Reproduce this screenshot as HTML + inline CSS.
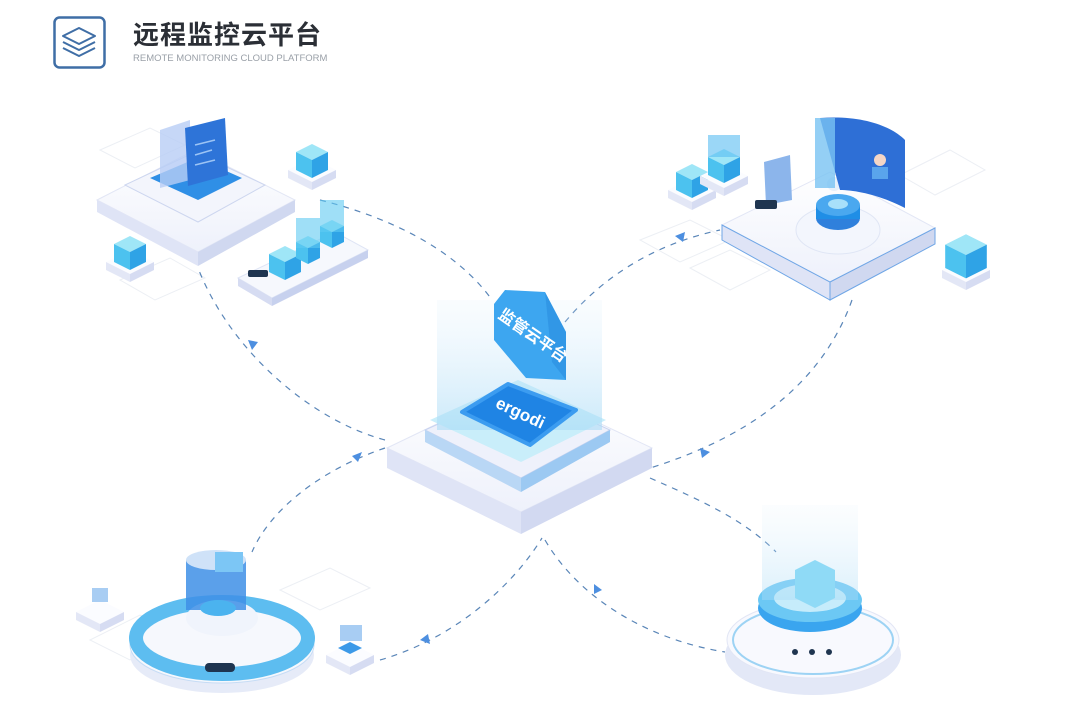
<!DOCTYPE html>
<html><head><meta charset="utf-8"><style>
html,body{margin:0;padding:0;background:#fff;}
body{width:1080px;height:716px;overflow:hidden;position:relative;font-family:"Liberation Sans","Noto Sans CJK SC",sans-serif;}
.title{position:absolute;left:133px;top:20px;font-size:26px;line-height:30px;font-weight:bold;color:#2b2f36;letter-spacing:1px;font-family:"Liberation Sans","Noto Sans CJK SC",sans-serif;}
.sub{position:absolute;left:133px;top:53px;font-size:9.5px;line-height:11px;color:#9aa0a8;letter-spacing:0;}
</style></head><body>
<svg width="1080" height="716" style="position:absolute;left:0;top:0">
<defs>
<linearGradient id="lt" x1="0" y1="0" x2="0" y2="1"><stop offset="0" stop-color="#ffffff"/><stop offset="1" stop-color="#eef1fb"/></linearGradient>
<linearGradient id="glow" x1="0" y1="0" x2="0" y2="1"><stop offset="0" stop-color="#dbeefc" stop-opacity="0.15"/><stop offset="1" stop-color="#a9dbf6" stop-opacity="0.6"/></linearGradient>
<g id="cube">
<polygon points="0,-16 16,-8 0,0 -16,-8" fill="#9fe6f7"/>
<polygon points="-16,-8 0,0 0,18 -16,10" fill="#4cc2ef"/>
<polygon points="0,0 16,-8 16,10 0,18" fill="#2fa3e6"/>
</g>
<g id="pad">
<polygon points="0,-12 24,0 0,12 -24,0" fill="#fbfcff"/>
<polygon points="-24,0 0,12 0,20 -24,8" fill="#e3e7f6"/>
<polygon points="0,12 24,0 24,8 0,20" fill="#d6dcf2"/>
</g>
</defs>
<!-- logo -->
<rect x="54.5" y="17.5" width="50" height="50" rx="5" fill="none" stroke="#3f6ea6" stroke-width="2.5"/>
<g fill="none" stroke="#3f6ea6" stroke-width="2" stroke-linejoin="round">
<polygon points="79,28 95,36 79,44 63,36"/><path d="M63,42 L79,50 L95,42"/><path d="M63,48 L79,56 L95,48"/>
</g>
<!-- faint grid tiles -->
<g fill="none" stroke="#eceff4" stroke-width="1">
<polygon points="640,240 690,220 730,240 680,262"/><polygon points="690,268 730,250 770,270 730,290"/>
<polygon points="900,175 950,150 985,170 935,195"/><polygon points="100,150 150,128 185,145 135,168"/>
<polygon points="120,280 170,258 205,278 155,300"/><polygon points="90,640 140,615 180,635 130,660"/>
<polygon points="280,590 330,568 370,588 320,610"/>
</g>
<!-- dashed connectors -->
<g fill="none" stroke="#5a86b8" stroke-width="1.2" stroke-dasharray="6,6">
<path d="M385,440 C310,420 230,350 198,268"/>
<path d="M320,200 C400,220 460,255 492,300"/>
<path d="M565,322 C600,280 650,245 720,230"/>
<path d="M852,300 C820,390 740,440 650,468"/>
<path d="M385,448 C320,470 270,510 252,552"/>
<path d="M380,660 C450,640 510,590 542,538"/>
<path d="M545,540 C580,600 650,640 725,652"/>
<path d="M650,478 C700,500 745,520 776,552"/>
</g>
<g fill="#4d8fe0">
<polygon points="248,340 258,342 252,350"/>
<polygon points="675,236 685,232 683,242"/>
<polygon points="700,448 710,452 702,458"/>
<polygon points="352,456 362,452 358,462"/>
<polygon points="420,640 428,634 430,644"/>
<polygon points="594,584 602,590 594,594"/>
</g>
<!-- center platform -->
<polygon points="387,448 518,385 652,448 521,512" fill="url(#lt)" stroke="#e2e6f5"/>
<polygon points="387,448 521,512 521,534 387,468" fill="#dfe4f6"/>
<polygon points="521,512 652,448 652,468 521,534" fill="#d2d9f1"/>
<polygon points="425,430 518,388 610,430 521,478" fill="#eef1fb" stroke="#c8d3f0"/>
<polygon points="425,430 521,478 521,492 425,442" fill="#b9d7f5"/>
<polygon points="521,478 610,430 610,442 521,492" fill="#9cc9f2"/>
<polygon points="430,420 518,380 606,420 521,462" fill="#c9eefa"/>
<rect x="437" y="300" width="165" height="130" fill="url(#glow)"/>
<polygon points="462,412 508,384 576,410 530,445" fill="#1f84e4" stroke="#3c9cf0" stroke-linejoin="round" stroke-width="4"/>
<text x="518" y="418" font-size="17" font-weight="bold" fill="#fff" text-anchor="middle" transform="rotate(25 518 418)" font-family="Liberation Sans,sans-serif">ergodi</text>
<polygon points="505,290 545,292 566,332 566,380 526,378 494,340 494,304" fill="#3da6f0"/>
<polygon points="545,292 566,332 566,380 552,362" fill="#2a8ee0" opacity="0.6"/>
<text x="530" y="340" font-size="16" font-weight="bold" fill="#fff" text-anchor="middle" transform="rotate(35 530 340)" font-family="Liberation Sans,Noto Sans CJK SC,sans-serif">监管云平台</text>
<!-- top-left node -->
<polygon points="97,200 195,150 295,200 198,252" fill="url(#lt)" stroke="#e2e6f5"/>
<polygon points="97,200 198,252 198,266 97,212" fill="#dfe4f6"/>
<polygon points="198,252 295,200 295,212 198,266" fill="#d0d8f0"/>
<polygon points="125,185 195,152 265,185 198,222" fill="#f3f5fc" stroke="#cdd6ef"/>
<polygon points="150,178 197,158 242,178 198,200" fill="#2f8fe6"/>
<polygon points="160,130 190,120 190,180 160,188" fill="#b8cdf5" opacity="0.8"/>
<polygon points="185,128 225,118 228,175 188,186" fill="#2e74d8"/>
<g stroke="#9cc4f5" stroke-width="1.5"><line x1="195" y1="145" x2="215" y2="140"/><line x1="195" y1="155" x2="212" y2="150"/><line x1="195" y1="165" x2="215" y2="160"/></g>
<use href="#pad" x="312" y="170"/><use href="#cube" x="312" y="160"/>
<use href="#pad" x="130" y="262"/><use href="#cube" x="130" y="252"/>
<polygon points="238,278 335,232 368,250 272,298" fill="#f6f8fd" stroke="#dfe5f5"/>
<polygon points="238,278 272,298 272,306 238,286" fill="#d6dcf2"/><polygon points="272,298 368,250 368,258 272,306" fill="#c7d1ee"/>
<rect x="248" y="270" width="20" height="7" rx="2" fill="#1f3550"/>
<use href="#cube" x="285" y="262"/>
<g transform="translate(308,248)"><polygon points="0,-12 12,-6 0,0 -12,-6" fill="#9fe6f7"/><polygon points="-12,-6 0,0 0,16 -12,10" fill="#4cc2ef"/><polygon points="0,0 12,-6 12,10 0,16" fill="#2fa3e6"/><rect x="-12" y="-30" width="24" height="30" fill="#5fc9f2" opacity="0.6"/></g>
<g transform="translate(332,232)"><polygon points="0,-12 12,-6 0,0 -12,-6" fill="#9fe6f7"/><polygon points="-12,-6 0,0 0,16 -12,10" fill="#4cc2ef"/><polygon points="0,0 12,-6 12,10 0,16" fill="#2fa3e6"/><rect x="-12" y="-32" width="24" height="32" fill="#5fc9f2" opacity="0.6"/></g>
<!-- top-right node -->
<polygon points="722,225 830,172 935,228 830,282" fill="url(#lt)" stroke="#e2e6f5"/>
<polygon points="722,225 830,282 830,300 722,240" fill="#dfe4f6" stroke="#6fa6e6" stroke-width="1"/>
<polygon points="830,282 935,228 935,244 830,300" fill="#d0d8f0" stroke="#6fa6e6" stroke-width="1"/>
<ellipse cx="838" cy="230" rx="42" ry="24" fill="#f3f6fd" stroke="#e0e6f5"/>
<ellipse cx="838" cy="218" rx="22" ry="12" fill="#2f80dc"/>
<rect x="816" y="205" width="44" height="14" fill="#1f8ee6"/>
<ellipse cx="838" cy="205" rx="22" ry="11" fill="#4aa8ef"/>
<ellipse cx="838" cy="204" rx="10" ry="5" fill="#a8e0fa"/>
<circle cx="834" cy="184" r="7" fill="#e6f0fb"/>
<path d="M820,118 C860,115 890,125 905,140 L905,208 C880,195 855,190 840,190 Z" fill="#2e6fd6"/>
<rect x="815" y="118" width="20" height="70" fill="#79c3f3" opacity="0.8"/>
<circle cx="880" cy="160" r="6" fill="#f4d6c6"/><rect x="872" y="167" width="16" height="12" fill="#5aa4ec"/>
<polygon points="764,162 790,155 792,200 766,205" fill="#8cb5eb"/>
<rect x="755" y="200" width="22" height="9" rx="2" fill="#1f3550"/>
<use href="#pad" x="692" y="190"/><use href="#cube" x="692" y="180"/>
<use href="#pad" x="724" y="176"/><use href="#cube" x="724" y="165"/><rect x="708" y="135" width="32" height="22" fill="#59bdf1" opacity="0.6"/>
<use href="#pad" x="966" y="270"/><g transform="translate(966,255) scale(1.3)"><use href="#cube"/></g>
<!-- bottom-left node -->
<ellipse cx="222" cy="655" rx="92" ry="38" fill="#e6ebf8"/>
<ellipse cx="222" cy="645" rx="92" ry="38" fill="#f6f8fd" stroke="#c6dcf5"/>
<ellipse cx="222" cy="638" rx="86" ry="36" fill="none" stroke="#5dbdf0" stroke-width="14"/>
<ellipse cx="222" cy="618" rx="36" ry="18" fill="#f0f4fc"/>
<rect x="186" y="560" width="60" height="50" fill="#3e8fe6" opacity="0.85"/>
<ellipse cx="216" cy="560" rx="30" ry="10" fill="#cfe2f8"/>
<rect x="215" y="552" width="28" height="20" fill="#7cc6f5"/>
<ellipse cx="218" cy="608" rx="18" ry="8" fill="#4bb3ef"/>
<rect x="205" y="663" width="30" height="9" rx="4" fill="#1f3550"/>
<use href="#pad" x="100" y="612"/><rect x="92" y="588" width="16" height="14" fill="#a8cdf3"/>
<use href="#pad" x="350" y="655"/><rect x="340" y="625" width="22" height="16" fill="#a8cdf3"/><polygon points="338,648 350,642 362,648 350,654" fill="#3d9ae8"/>
<!-- bottom-right node -->
<ellipse cx="813" cy="655" rx="88" ry="40" fill="#e3e8f7"/>
<ellipse cx="813" cy="640" rx="86" ry="38" fill="#f8f9fe" stroke="#e2e6f5"/>
<ellipse cx="813" cy="640" rx="80" ry="34" fill="none" stroke="#9dd3f4" stroke-width="2"/>
<ellipse cx="810" cy="608" rx="52" ry="24" fill="#3aa5ef"/>
<ellipse cx="810" cy="600" rx="52" ry="22" fill="#6cc8f4"/>
<ellipse cx="810" cy="598" rx="36" ry="14" fill="#c6ecfb"/>
<rect x="762" y="505" width="96" height="95" fill="url(#glow)" opacity="0.7"/>
<polygon points="795,570 815,560 835,570 835,598 815,608 795,598" fill="#8fdaf6"/>
<circle cx="795" cy="652" r="3" fill="#1f3550"/><circle cx="812" cy="652" r="3" fill="#1f3550"/><circle cx="829" cy="652" r="3" fill="#1f3550"/>
</svg>
<div class="title">远程监控云平台</div>
<div class="sub">REMOTE MONITORING CLOUD PLATFORM</div>
</body></html>
